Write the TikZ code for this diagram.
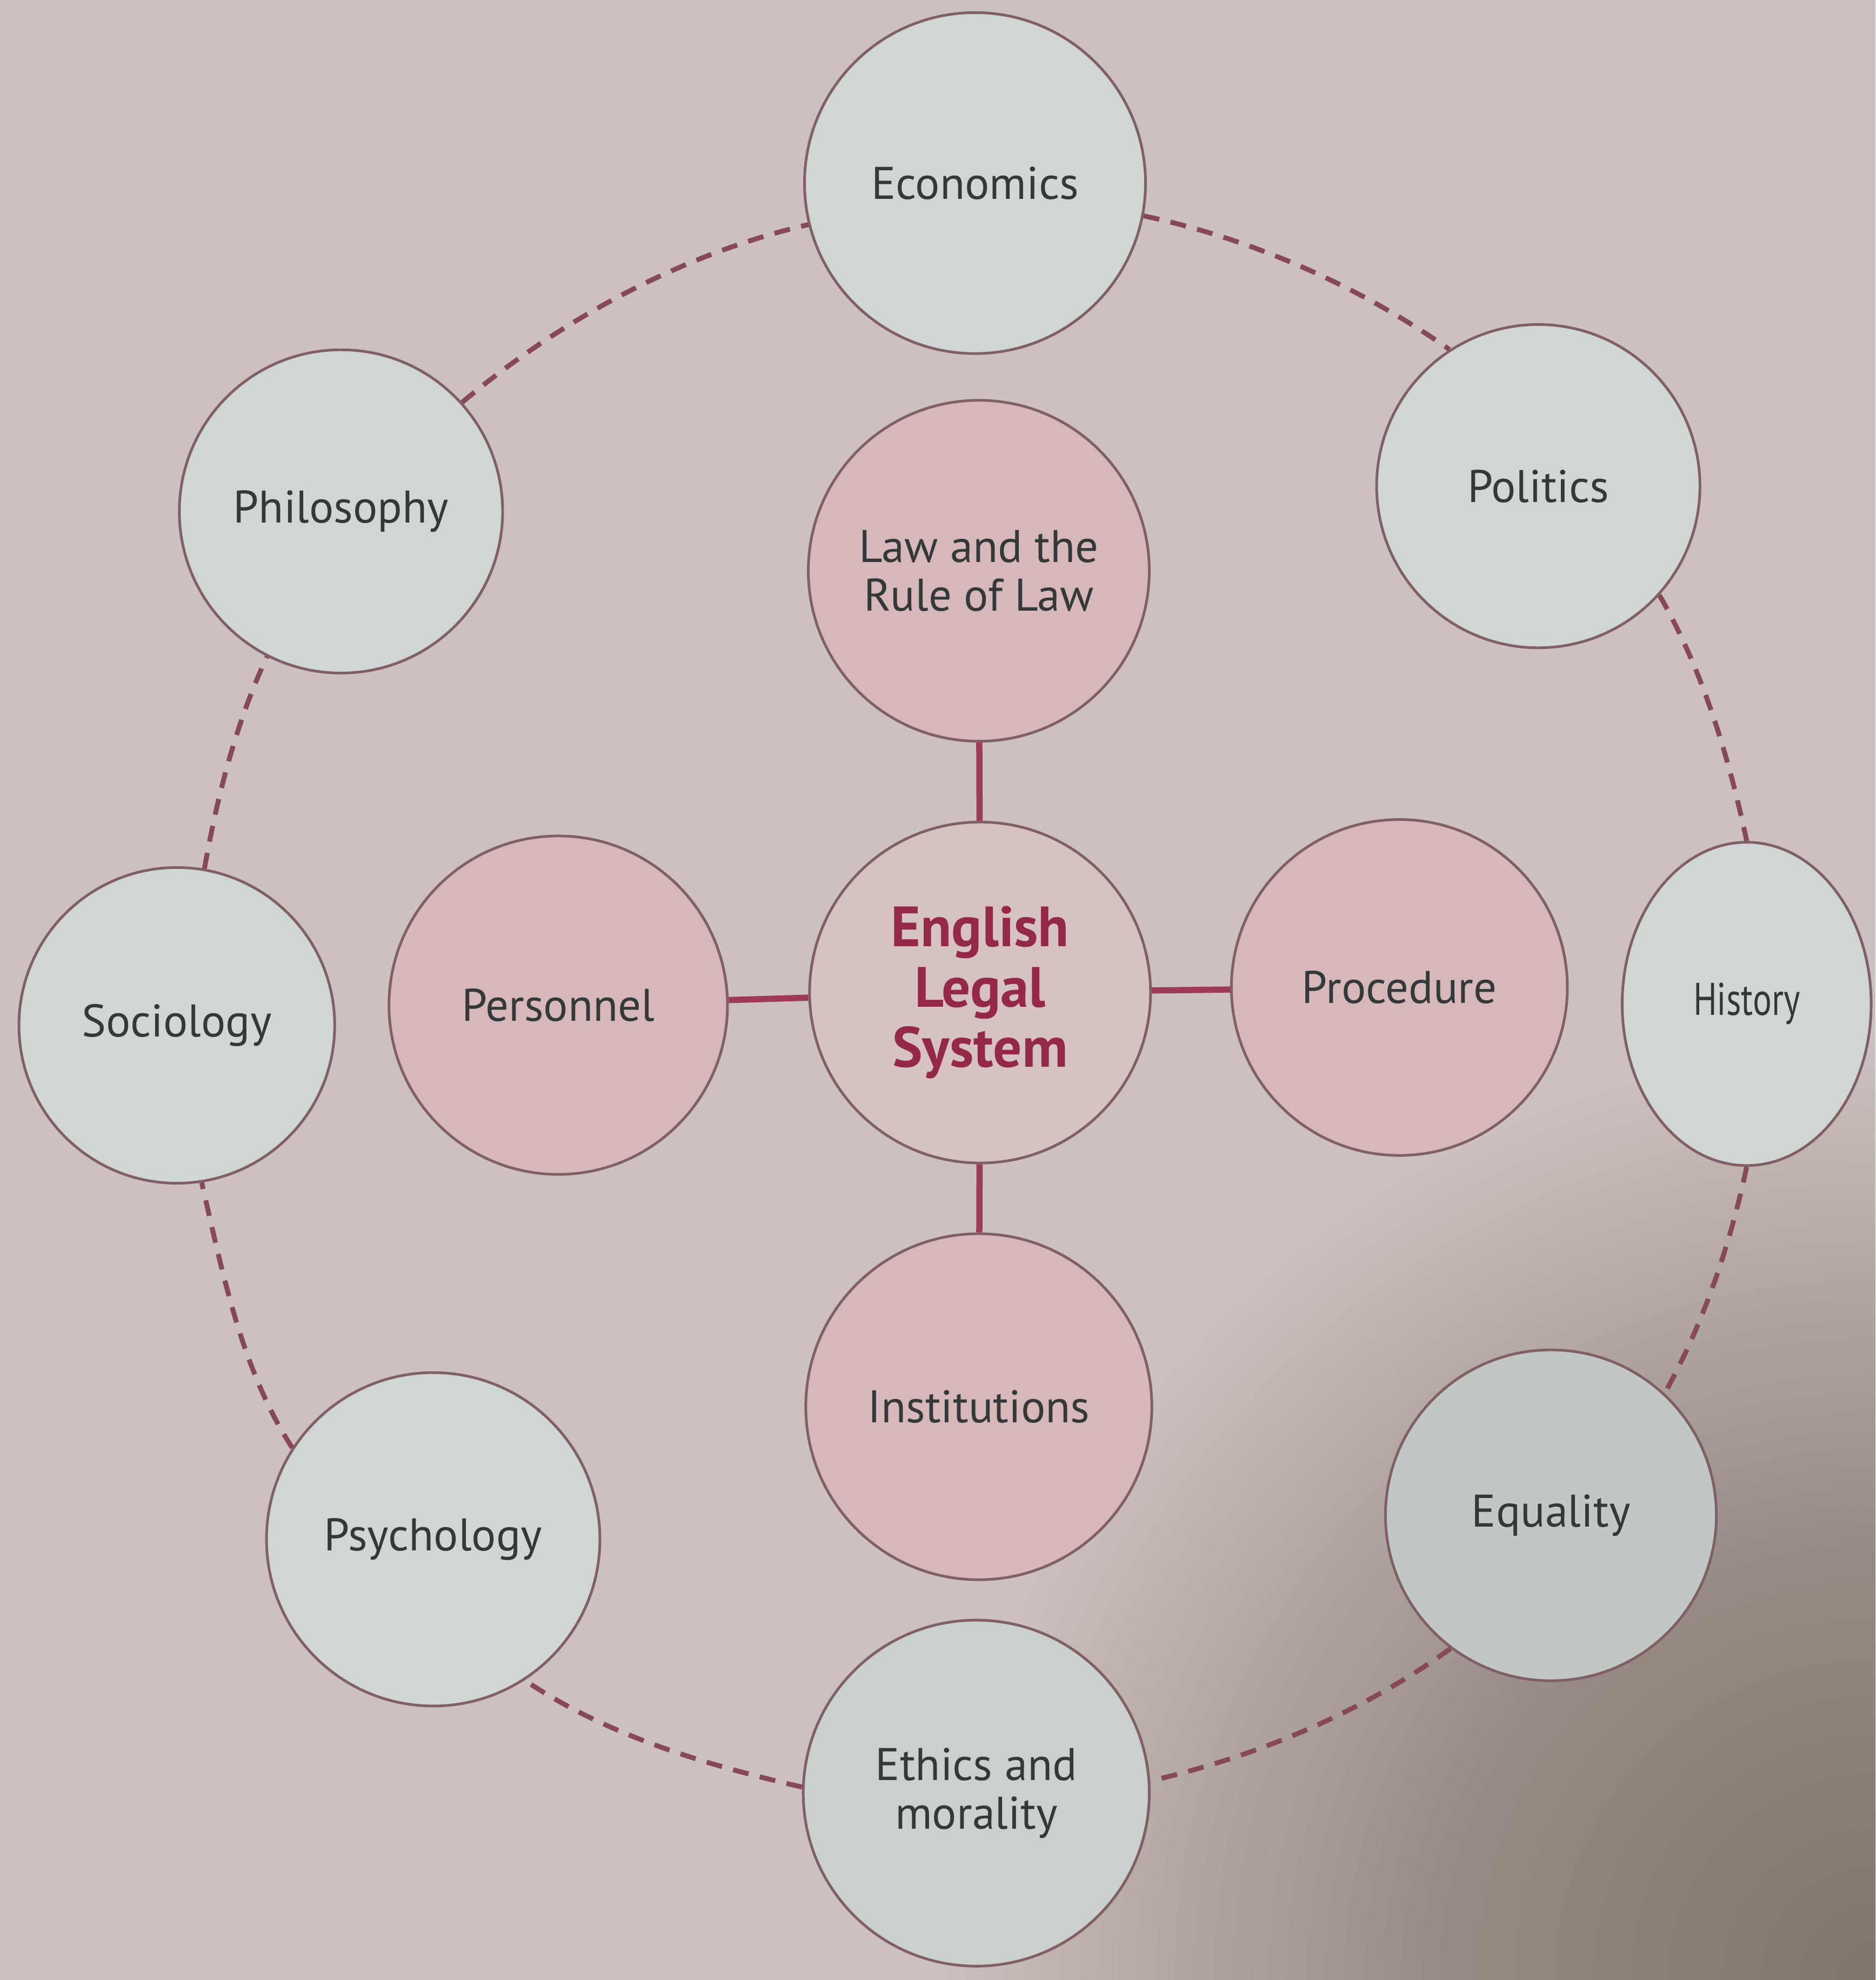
\documentclass[tikz,border=0pt]{standalone}
\usepackage{fontspec}
\setmainfont{PT Sans}
\usepackage{tikz}
\usetikzlibrary{calc}
\usetikzlibrary{shapes.geometric}
\definecolor{discedge}{RGB}{128,96,100}
\definecolor{outerfill}{RGB}{208,214,212}
\definecolor{innerfill}{RGB}{214,183,186}
\definecolor{corefill}{RGB}{215,194,194}
\definecolor{spoke}{RGB}{158,58,88}
\definecolor{ringdash}{RGB}{135,72,88}
\definecolor{labeltext}{RGB}{52,56,56}
\definecolor{coretext}{RGB}{148,40,72}
\definecolor{pagebase}{RGB}{204,193,192}
\definecolor{pageshadow}{RGB}{100,88,76}

\begin{document}
\begin{tikzpicture}[
    disc/.style={circle, draw=discedge, line width=0.6pt, inner sep=0pt, align=center,
                 text=labeltext, font=\fontsize{10.3}{11}\selectfont},
    outerdisc/.style={disc, fill=outerfill},
    innerdisc/.style={disc, fill=innerfill},
    spokeline/.style={draw=spoke, line width=1.4pt},
    ringline/.style={draw=ringdash, line width=1.1pt, dash pattern=on 3.6pt off 2.6pt, looseness=0.85}
]
        % page
        \useasboundingbox (0,0) rectangle (14.85,-15.68);
        \fill[pagebase] (0,0) rectangle (14.85,-15.68);
        \begin{scope}
            \clip (0,0) rectangle (14.85,-15.68);
            \foreach \r in {0.15,0.30,...,7.5}
                \fill[pageshadow, opacity=0.02] (14.85,-15.68) circle (\r);
        \end{scope}

        % coordinates
        \coordinate (c-econ) at (7.72,-1.45);
        \coordinate (c-pol) at (12.18,-3.85);
        \coordinate (c-hist) at (13.83,-7.95);
        \coordinate (c-equal) at (12.28,-12.00);
        \coordinate (c-ethics) at (7.73,-14.20);
        \coordinate (c-psych) at (3.43,-12.19);
        \coordinate (c-socio) at (1.40,-8.12);
        \coordinate (c-philo) at (2.70,-4.05);
        \coordinate (c-law) at (7.75,-4.52);
        \coordinate (c-pers) at (4.42,-7.96);
        \coordinate (c-els) at (7.76,-7.86);
        \coordinate (c-proc) at (11.08,-7.82);
        \coordinate (c-inst) at (7.75,-11.14);

        % outer discs
        \node[outerdisc, minimum size=2.70cm] (econ) at (c-econ) {Economics};
        \node[outerdisc, minimum size=2.56cm] (pol) at (c-pol) {Politics};
        \node[outerdisc, minimum size=2.56cm, xscale=0.77, transform shape] (hist) at (c-hist) {History};
        \node[outerdisc, fill=outerfill!93!black, minimum size=2.62cm] (equal) at (c-equal) {Equality};
        \node[outerdisc, fill=outerfill!97!black, minimum size=2.74cm] (ethics) at (c-ethics) {Ethics and\\morality};
        \node[outerdisc, minimum size=2.64cm] (psych) at (c-psych) {Psychology};
        \node[outerdisc, minimum size=2.50cm] (socio) at (c-socio) {Sociology};
        \node[outerdisc, minimum size=2.56cm] (philo) at (c-philo) {Philosophy};

        % inner discs
        \node[innerdisc, minimum size=2.70cm] (law) at (c-law) {Law and the\\Rule of Law};
        \node[innerdisc, minimum size=2.68cm] (pers) at (c-pers) {Personnel};
        \node[innerdisc, minimum size=2.66cm] (proc) at (c-proc) {Procedure};
        \node[innerdisc, minimum size=2.74cm] (inst) at (c-inst) {Institutions};
        \node[disc, fill=corefill, minimum size=2.70cm, text=coretext,
              font=\fontsize{12.8}{13.6}\selectfont\bfseries] (els) at (c-els) {English\\Legal\\System};

        % spokes
        \draw[spokeline] (law) -- (els);
        \draw[spokeline] (els) -- (inst);
        \draw[spokeline] (pers) -- (els);
        \draw[spokeline] (els) -- (proc);

        % ring
        \draw[ringline] (econ.-11) to[out=-12, in=145] (pol.123);
        \draw[ringline] (pol.-42) to[out=-60, in=102] (hist.north);
        \draw[ringline] (hist.south) to[out=-102, in=61] (equal.47);
        \draw[ringline] (equal.-127) to[out=-144, in=13] (ethics.4);
        \draw[ringline] (ethics.178) to[out=167, in=-34] (psych.-57);
        \draw[ringline] (psych.147) to[out=123, in=-77] (socio.-81);
        \draw[ringline] (socio.80) to[out=80, in=-115] (philo.-117);
        \draw[ringline] (philo.42) to[out=40, in=-167] (econ.194);
\end{tikzpicture}
\end{document}
